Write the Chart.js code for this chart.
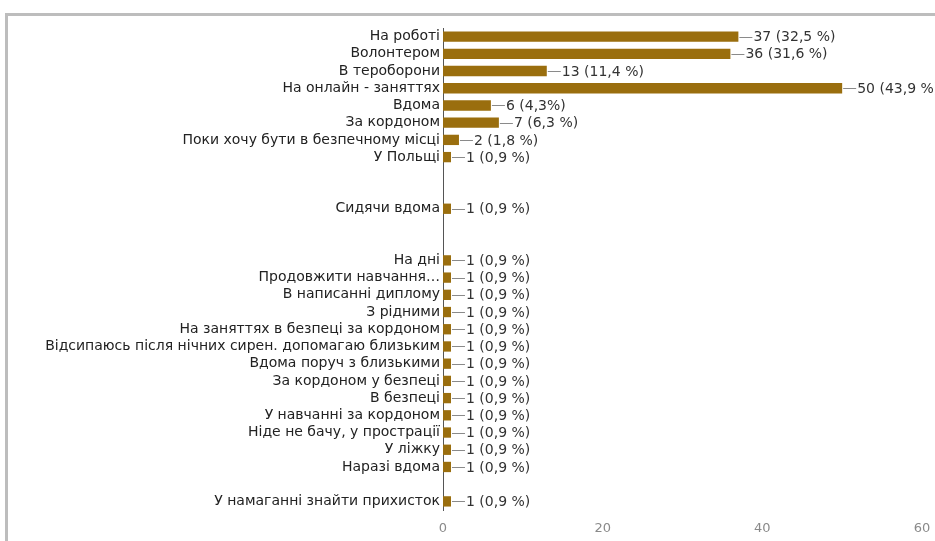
<!DOCTYPE html>
<html>
<head>
<meta charset="utf-8">
<script src="https://cdn.jsdelivr.net/npm/chart.js@4"></script>
<style>
  html, body { margin: 0; padding: 0; background: #fff; }
  #wrap { position: relative; width: 935px; height: 541px; overflow: hidden; }
  /* сіра рамка зліва та зверху */
  #ramka { position: absolute; left: 5px; top: 13px; width: 940px; height: 540px;
           border-left: 3px solid #bdbdbd; border-top: 3px solid #bdbdbd; }
  #grafik { position: absolute; left: 0; top: 0; }
</style>
</head>
<body>
<div id="wrap">
  <div id="ramka"></div>
  <canvas id="grafik" width="935" height="541"></canvas>
</div>
<script>
// Варіанти відповідей (порожні рядки - проміжки між групами)
var vidpovidi = [
    'На роботі',
    'Волонтером',
    'В тероборони',
    'На онлайн - заняттях',
    'Вдома',
    'За кордоном',
    'Поки хочу бути в безпечному місці',
    'У Польщі',
    '',
    '',
    'Сидячи вдома',
    '',
    '',
    'На дні',
    'Продовжити навчання…',
    'В написанні диплому',
    'З рідними',
    'На заняттях в безпеці за кордоном',
    'Відсипаюсь після нічних сирен. допомагаю близьким',
    'Вдома поруч з близькими',
    'За кордоном у безпеці',
    'В безпеці',
    'У навчанні за кордоном',
    'Ніде не бачу, у прострації',
    'У ліжку',
    'Наразі вдома',
    '',
    'У намаганні знайти прихисток'
];
// Кількість відповідей
var kilkist = [37, 36, 13, 50, 6, 7, 2, 1, null, null, 1, null, null,
               1, 1, 1, 1, 1, 1, 1, 1, 1, 1, 1, 1, 1, null, 1];
// Відсотки, як підписано біля стовпців
var vidsotky = ['32,5 %', '31,6 %', '11,4 %', '43,9 %', '4,3%', '6,3 %', '1,8 %', '0,9 %', '', '', '0,9 %', '', '',
                '0,9 %', '0,9 %', '0,9 %', '0,9 %', '0,9 %', '0,9 %', '0,9 %', '0,9 %', '0,9 %', '0,9 %', '0,9 %', '0,9 %', '0,9 %', '', '0,9 %'];
// Поділки осі X
var podilky = [0, 20, 40, 60];

var shryft = 'DejaVu Sans, Liberation Sans, Arial, sans-serif';

// підписи "кількість (відсоток)" з рисочкою біля кожного стовпця
var pidpysy = {
    id: 'pidpysy',
    afterDatasetsDraw: function(chart) {
        var ctx = chart.ctx;
        var meta = chart.getDatasetMeta(0);
        ctx.save();
        ctx.font = '14px ' + shryft;
        ctx.textBaseline = 'middle';
        ctx.textAlign = 'left';
        meta.data.forEach(function(bar, i) {
            if (kilkist[i] === null) return;
            ctx.strokeStyle = '#8a8a8a';
            ctx.lineWidth = 1;
            ctx.beginPath();
            ctx.moveTo(bar.x + 1, Math.round(bar.y) + 0.5);
            ctx.lineTo(bar.x + 14, Math.round(bar.y) + 0.5);
            ctx.stroke();
            ctx.fillStyle = '#333';
            ctx.fillText(kilkist[i] + ' (' + vidsotky[i] + ')', bar.x + 15, bar.y + 1);
        });
        ctx.restore();
    }
};

var canva_grafik = document.getElementById('grafik');
var config = {
    type: 'bar',
    data: {
        labels: vidpovidi,
        datasets: [{
            data: kilkist,
            backgroundColor: '#9a6e0e',
            borderWidth: 0,
            barPercentage: 0.6,
            categoryPercentage: 1
        }]
    },
    options: {
        indexAxis: 'y',
        responsive: false,
        animation: false,
        layout: {
            padding: { top: 28, right: 13, bottom: 0, left: 0 }
        },
        plugins: {
            legend: { display: false },
            tooltip: { enabled: false }
        },
        scales: {
            x: {
                min: 0,
                max: 60,
                afterBuildTicks: function(scale) {
                    scale.ticks = podilky.map(function(v) { return { value: v }; });
                },
                afterFit: function(scale) {
                    scale.height = 31;
                    scale.paddingLeft = 0;
                    scale.paddingRight = 0;
                },
                grid: { display: false, drawTicks: false },
                border: { display: false },
                ticks: { color: '#8a8a8a', padding: 11, font: { family: shryft, size: 13 } }
            },
            y: {
                afterFit: function(scale) { scale.width = 443; },
                grid: { display: false, drawTicks: false },
                border: { display: true, color: '#555', width: 1 },
                ticks: { color: '#222', padding: 3, autoSkip: false, font: { family: shryft, size: 14 } }
            }
        }
    },
    plugins: [pidpysy]
};
const Grafik = new Chart(canva_grafik, config);
</script>
</body>
</html>
